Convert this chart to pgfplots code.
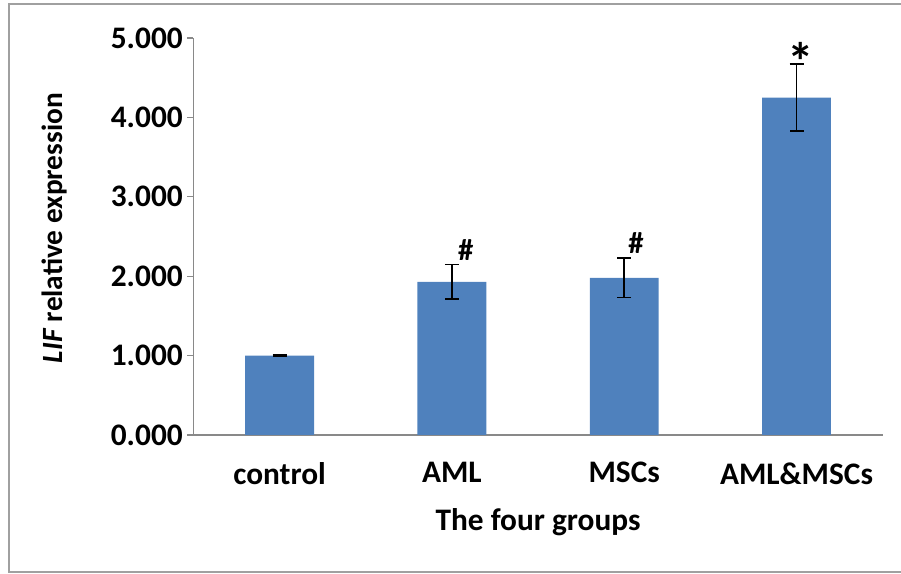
\documentclass[border=0pt]{standalone}
\usepackage{pgfplots}
\pgfplotsset{compat=1.18}
\usepackage{fontspec}
\setmainfont{Carlito}
\definecolor{barblue}{HTML}{4F81BD}
\definecolor{axgray}{HTML}{898989}
\definecolor{framegray}{HTML}{A0A0A0}
\begin{document}
\begin{tikzpicture}[x=0.75pt,y=0.75pt]
\useasboundingbox (0,0) rectangle (901,574);
\draw[color=framegray, line width=1.6pt] (9,2) rectangle (912,570);
\begin{axis}[
  at={(145.1pt,104.25pt)}, anchor=south west,
  width=516.9pt, height=297.75pt, scale only axis,
  xmin=-0.5, xmax=3.5, ymin=0, ymax=5,
  axis lines*=left,
  axis line style={axgray, line width=1.1pt},
  xtick={0,1,2,3},
  xticklabels={control,AML,MSCs,AML\&MSCs},
  major x tick style={draw=none},
  ytick={0,1,2,3,4,5},
  major y tick style={axgray, line width=0.9pt},
  tick align=outside, major tick length=4.5pt,
  /pgf/number format/assume math mode=true,
  yticklabel style={/pgf/number format/.cd, fixed, fixed zerofill, precision=3},
  tick label style={font=\fontsize{23.5}{27}\selectfont\bfseries},
  xticklabel style={yshift=-12.5pt},
  label style={font=\fontsize{23.5}{27}\selectfont\bfseries},
  ylabel={\textit{LIF} relative expression},
  xlabel={The four groups},
  ylabel style={font=\fontsize{22}{26}\selectfont\bfseries, at={(axis description cs:-0.2023,0.521)}, anchor=center},
  xlabel style={at={(axis description cs:0.5,-0.219)}, anchor=center},
  ybar, bar width=0.4,
]
\addplot[fill=barblue, draw=none,
  error bars/.cd, y dir=both, y explicit,
  error bar style={black, line width=1.1pt},
  error mark options={rotate=90, black, line width=1.1pt, mark size=5.25pt}]
  coordinates {
    (0,1.00) +- (0,0.006)
    (1,1.93) +- (0,0.215)
    (2,1.98) +- (0,0.25)
    (3,4.25) +- (0,0.42)
  };
\node[font=\fontsize{23}{27}\selectfont\bfseries, anchor=center, inner sep=0pt] at (axis cs:1.08,2.33) {\#};
\node[font=\fontsize{23}{27}\selectfont\bfseries, anchor=center, inner sep=0pt] at (axis cs:2.068,2.42) {\#};
\node[font=\fontsize{40}{44}\selectfont\bfseries, anchor=north, inner sep=0pt] at (axis cs:3.026,4.95) {*};
\end{axis}
\end{tikzpicture}
\end{document}
